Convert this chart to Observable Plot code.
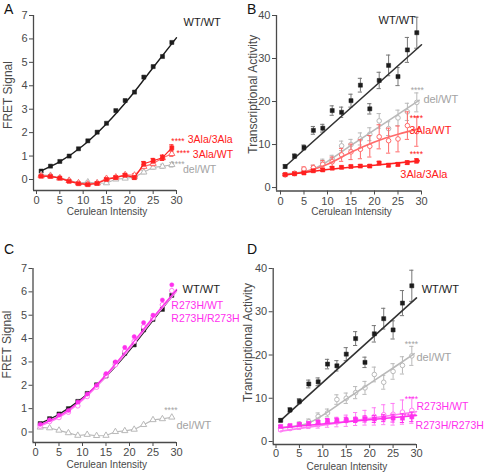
<!DOCTYPE html>
<html>
<head>
<meta charset="utf-8">
<script src="https://cdn.jsdelivr.net/npm/d3@7"></script>
<script src="https://cdn.jsdelivr.net/npm/@observablehq/plot@0.6"></script>
<style>
  body { margin: 0; background: #fff; }
  #fig { position: relative; width: 486px; height: 472px; font-family: "Liberation Sans", Arial, sans-serif; }
  .panel { position: absolute; width: 243px; height: 236px; }
  .letter { position: absolute; font-size: 14px; color: #111; line-height: 1; }
</style>
</head>
<body>
<div id="fig"></div>
<script>
// Cerulean intensity bins (shared by every series)
const intensity = [1, 3, 5, 7, 9, 11, 13, 15, 17, 19, 21, 23, 25, 27, 29];

// FRET signal (panels A and C)
const fretWT = [0.36, 0.57, 0.77, 1.00, 1.31, 1.65, 2.02, 2.40, 2.94, 3.37, 3.73, 4.37, 4.82, 5.25, 5.85];
const fretDel = [0.20, 0.17, 0.07, -0.04, -0.15, -0.11, -0.16, -0.15, 0.01, 0.05, 0.11, 0.31, 0.52, 0.56, 0.63];
const fretDelErr = [0.03, 0.03, 0.03, 0.03, 0.04, 0.04, 0.04, 0.05, 0.05, 0.05, 0.06, 0.07, 0.08, 0.09, 0.10];
const fret3Ala3Ala = [0.14, 0.13, 0.06, -0.08, -0.18, -0.22, -0.17, 0.00, 0.08, 0.18, 0.08, 0.67, 0.80, 0.93, 1.35];
const fret3Ala3AlaErr = [0.03, 0.03, 0.03, 0.04, 0.04, 0.04, 0.05, 0.05, 0.06, 0.06, 0.07, 0.10, 0.10, 0.11, 0.13];
const fret3AlaWT = [0.15, 0.14, 0.05, -0.05, -0.15, -0.20, -0.15, 0.04, 0.10, 0.20, 0.18, 0.55, 0.68, 0.92, 1.10];
const fret3AlaWTErr = [0.03, 0.03, 0.03, 0.04, 0.04, 0.04, 0.05, 0.05, 0.06, 0.06, 0.07, 0.09, 0.10, 0.11, 0.12];
const fretR273HWT = [0.25, 0.45, 0.62, 0.85, 1.12, 1.52, 1.92, 2.42, 2.88, 3.45, 3.88, 4.50, 4.88, 5.45, 6.05];
const fretR273HR273H = [0.33, 0.52, 0.72, 0.92, 1.28, 1.62, 2.00, 2.50, 3.00, 3.62, 4.08, 4.68, 5.00, 5.65, 6.30];

// Fitted FRET curves
const fitFretX = [1, 5, 10, 15, 20, 25, 30];
const fitFretWT = [0.37, 0.76, 1.45, 2.38, 3.50, 4.78, 6.05];
const fitFretR273HWT = [0.25, 0.62, 1.36, 2.38, 3.55, 4.82, 6.02];
const fitFretR273HR273H = [0.31, 0.68, 1.42, 2.45, 3.64, 4.90, 6.10];

// Transcriptional activity (panels B and D)
const taWT = [4.9, 7.3, 9.3, 13.3, 13.8, 17.9, 17.5, 20.2, 23.8, 18.3, 24.9, 28.4, 25.8, 32.0, 36.0];
const taWTErr = [0.4, 0.5, 0.6, 0.9, 0.9, 1.1, 1.2, 1.5, 1.6, 1.2, 1.9, 2.4, 2.1, 2.9, 3.6];
const taDel = [3.0, 3.3, 4.0, 4.6, 5.8, 6.6, 9.7, 10.0, 11.3, 12.4, 15.5, 13.7, 16.2, 17.6, 19.8];
const taDelErr = [0.3, 0.4, 0.5, 0.6, 0.8, 0.9, 1.1, 1.2, 1.4, 1.5, 1.7, 1.6, 1.8, 2.0, 2.2];
const ta3AlaWT = [3.0, 3.3, 4.3, 4.6, 5.4, 6.0, 7.6, 8.3, 8.9, 9.6, 11.8, 10.9, 11.3, 14.4, 13.0];
const ta3AlaWTErr = [0.3, 0.4, 0.5, 0.6, 0.9, 1.1, 1.5, 1.8, 2.2, 2.5, 2.8, 2.9, 3.0, 3.2, 3.4];
const ta3Ala3Ala = [3.0, 3.2, 3.4, 3.9, 4.1, 4.5, 4.7, 4.9, 5.0, 5.0, 5.7, 5.2, 5.4, 5.8, 6.2];
const ta3Ala3AlaErr = [0.2, 0.2, 0.2, 0.3, 0.3, 0.3, 0.3, 0.3, 0.3, 0.3, 0.4, 0.4, 0.4, 0.4, 0.5];
const taR273HWT = [2.7, 3.0, 3.3, 3.6, 3.9, 4.3, 4.5, 4.8, 5.2, 5.5, 5.8, 6.2, 6.3, 6.8, 7.2];
const taR273HWTErr = [0.3, 0.4, 0.5, 0.6, 0.8, 1.0, 1.1, 1.3, 1.5, 1.7, 2.0, 2.3, 2.5, 2.8, 3.0];
const taR273HR273H = [3.5, 3.7, 4.0, 4.2, 4.5, 4.8, 4.9, 5.0, 5.0, 5.2, 5.2, 5.4, 5.4, 5.4, 5.7];
const taR273HR273HErr = [0.2, 0.2, 0.3, 0.3, 0.4, 0.5, 0.5, 0.6, 0.6, 0.7, 0.8, 0.8, 0.9, 1.0, 1.1];

// Fitted transcription curves
const fitTaWTX = [1, 30], fitTaWT = [4.9, 33.2];
const fitTaDelX = [1, 4, 7, 10, 15, 20, 25, 29.5], fitTaDel = [3.2, 3.5, 4.3, 6.1, 9.8, 13.4, 17.0, 20.3];
const fitTa3AlaWTX = [1, 5, 10, 15, 20, 25, 29.5], fitTa3AlaWT = [3.0, 3.6, 5.4, 8.2, 10.6, 12.4, 13.7];
const fitTa3Ala3AlaX = [1, 10, 20, 29.5], fitTa3Ala3Ala = [2.9, 4.2, 5.2, 6.2];
const fitTaR273HWTX = [1, 30], fitTaR273HWT = [2.4, 6.9];
const fitTaR273HR273HX = [1, 30], fitTaR273HR273H = [3.2, 6.0];

// Tick values
const xTicks = [0, 5, 10, 15, 20, 25, 30];
const fretTicks = [0, 1, 2, 3, 4, 5, 6, 7];
const taTicks = [0, 10, 20, 30, 40];

// Colours
const BLACK = "#1c1c1c", GREY = "#b9b9b9", GREY_TXT = "#a3a3a3";
const RED = "#ff2020", RED_LIGHT = "#ff6a6a";
const MAG = "#ff30ee", MAG_LIGHT = "#ff7df4";
const AXIS = "#4a4a4a";
const FONT = "'Liberation Sans', Arial, sans-serif";

const rows = (xs, ys, es) => xs.map((x, i) => ({x, y: ys[i], e: es ? es[i] : 0}));

function errorBars(data, color) {
  const o = {stroke: color, strokeWidth: 1};
  return [
    Plot.ruleX(data, {x: "x", y1: d => d.y - d.e, y2: d => d.y + d.e, ...o}),
    Plot.ruleY(data, {y: d => d.y + d.e, x1: d => d.x - 0.45, x2: d => d.x + 0.45, ...o}),
    Plot.ruleY(data, {y: d => d.y - d.e, x1: d => d.x - 0.45, x2: d => d.x + 0.45, ...o})
  ];
}
const filled = (data, color, symbol = "square", r = 2.3) =>
  Plot.dot(data, {x: "x", y: "y", symbol, r, fill: color, stroke: color, strokeWidth: 0.5});
const hollow = (data, color, symbol = "circle") =>
  Plot.dot(data, {x: "x", y: "y", symbol, r: 2.3, fill: "white", stroke: color, strokeWidth: 1});
const joined = (data, color, w = 1.2) =>
  Plot.line(data, {x: "x", y: "y", stroke: color, strokeWidth: w});
const fit = (data, color, w = 1.6) =>
  Plot.line(data, {x: "x", y: "y", stroke: color, strokeWidth: w, curve: "monotone-x"});
const label = (x, y, text, color, size = 11) =>
  Plot.text([text], {x: () => x, y: () => y, text: d => d, fill: color, fontSize: size,
    textAnchor: "start", lineAnchor: "middle", fontFamily: FONT});
const stars = (x, y, color) =>
  Plot.text(["****"], {x: () => x, y: () => y, text: d => d, fill: color, fontSize: 8.5,
    textAnchor: "start", lineAnchor: "middle", dy: 2, fontFamily: FONT});

function panel({xmin, ymin, ymax, yTicks, yTitle, m, yTitleShift, xTitleShift, tickPad = 2, marks}) {
  return Plot.plot({
    width: 243, height: 236,
    marginLeft: m[0], marginRight: m[1], marginTop: m[2], marginBottom: m[3],
    x: {domain: [xmin, 30]},
    y: {domain: [ymin, ymax]},
    style: {fontFamily: FONT, fontSize: "11px", color: AXIS, background: "transparent", overflow: "visible"},
    marks: [
      Plot.ruleX([xmin], {stroke: AXIS, strokeWidth: 1.3}),
      Plot.ruleY([ymin], {stroke: AXIS, strokeWidth: 1.3}),
      Plot.axisX({ticks: xTicks, tickSize: 4, tickPadding: tickPad, label: null, fontSize: 11}),
      Plot.axisY({ticks: yTicks, tickSize: 4, tickPadding: 2, label: null, fontSize: 11}),
      ...marks,
      Plot.text(["Cerulean Intensity"], {frameAnchor: "bottom", text: d => d, fill: AXIS, fontSize: 10,
        textAnchor: "middle", lineAnchor: "middle", dx: xTitleShift[0], dy: xTitleShift[1], fontFamily: FONT}),
      Plot.text([yTitle], {frameAnchor: "left", text: d => d, fill: AXIS, fontSize: 12, rotate: -90,
        textAnchor: "middle", lineAnchor: "middle", dx: yTitleShift[0], dy: yTitleShift[1], fontFamily: FONT})
    ]
  });
}

const fWT = rows(intensity, fretWT);
const fDel = rows(intensity, fretDel, fretDelErr);
const f33 = rows(intensity, fret3Ala3Ala, fret3Ala3AlaErr);
const f3W = rows(intensity, fret3AlaWT, fret3AlaWTErr);
const fRW = rows(intensity, fretR273HWT);
const fRR = rows(intensity, fretR273HR273H);

const tWT = rows(intensity, taWT, taWTErr);
const tDel = rows(intensity, taDel, taDelErr);
const t3W = rows(intensity, ta3AlaWT, ta3AlaWTErr);
const t33 = rows(intensity, ta3Ala3Ala, ta3Ala3AlaErr);
const tRW = rows(intensity, taR273HWT, taR273HWTErr);
const tRR = rows(intensity, taR273HR273H, taR273HR273HErr);

const panelA = panel({
  xmin: -0.64, ymin: -0.47, ymax: 7, yTicks: fretTicks, yTitle: "FRET Signal",
  m: [33, 67, 15, 46], yTitleShift: [-25, -8], xTitleShift: [2, 21],
  marks: [
    fit(rows(fitFretX, fitFretWT), BLACK, 1.4),
    filled(fWT, BLACK),
    ...errorBars(fDel, GREY), joined(fDel, GREY), hollow(fDel, GREY, "triangle"),
    ...errorBars(f3W, RED_LIGHT), joined(f3W, RED_LIGHT), hollow(f3W, RED_LIGHT, "triangle"),
    ...errorBars(f33, RED), joined(f33, RED), filled(f33, RED),
    label(31.5, 6.7, "WT/WT", BLACK),
    stars(28.9, 1.72, RED), label(32.4, 1.71, "3Ala/3Ala", RED, 10.5),
    stars(30.0, 1.22, RED), label(33.5, 1.07, "3Ala/WT", RED, 10.5),
    stars(28.9, 0.72, GREY_TXT), label(31.4, 0.44, "del/WT", GREY_TXT, 10.5)
  ]
});

const panelB = panel({
  xmin: -0.85, ymin: -0.8, ymax: 40, yTicks: taTicks, yTitle: "Transcriptional Activity",
  m: [33, 65, 15, 45.5], yTitleShift: [-23, -9], xTitleShift: [2.5, 20.5],
  marks: [
    ...errorBars(tWT, "#777"),
    fit(rows(fitTaWTX, fitTaWT), "#333"),
    filled(tWT, BLACK),
    ...errorBars(tDel, GREY), hollow(tDel, GREY),
    fit(rows(fitTaDelX, fitTaDel), GREY),
    ...errorBars(t3W, RED_LIGHT), hollow(t3W, RED_LIGHT),
    fit(rows(fitTa3AlaWTX, fitTa3AlaWT), RED_LIGHT),
    ...errorBars(t33, RED),
    fit(rows(fitTa3Ala3AlaX, fitTa3Ala3Ala), RED),
    filled(t33, RED),
    label(20.85, 38.8, "WT/WT", BLACK),
    stars(27.7, 23.0, GREY_TXT), label(30.4, 20.5, "del/WT", GREY_TXT),
    stars(27.5, 16.6, RED), label(27.4, 13.2, "3Ala/WT", RED),
    stars(27.5, 8.2, RED), label(25.5, 3.0, "3Ala/3Ala", RED)
  ]
});

const panelC = panel({
  xmin: -0.53, ymin: -0.45, ymax: 7, yTicks: fretTicks, yTitle: "FRET Signal",
  m: [32.5, 67, 32, 30], yTitleShift: [-25.5, -11], xTitleShift: [2, 22],
  marks: [
    joined(fDel, GREY), hollow(fDel, GREY, "triangle"),
    fit(rows(fitFretX, fitFretWT), BLACK, 1.4),
    filled(fWT, BLACK),
    fit(rows(fitFretX, fitFretR273HWT), MAG_LIGHT, 1.4),
    hollow(fRW, MAG_LIGHT),
    fit(rows(fitFretX, fitFretR273HR273H), MAG, 1.4),
    filled(fRR, MAG, "circle", 2.1),
    label(31.3, 6.1, "WT/WT", BLACK),
    label(28.9, 5.42, "R273H/WT", MAG, 10.5),
    label(28.9, 4.86, "R273H/R273H", MAG, 10.5),
    stars(27.4, 1.02, GREY_TXT), label(30.0, 0.28, "del/WT", GREY_TXT)
  ]
});

const panelD = panel({
  xmin: -0.6, ymin: -0.69, ymax: 40, yTicks: taTicks, yTitle: "Transcriptional Activity",
  m: [29.7, 70, 32, 28], yTitleShift: [-25, -14], xTitleShift: [2, 22.5], tickPad: 1,
  marks: [
    ...errorBars(tWT, "#777"),
    fit(rows(fitTaWTX, fitTaWT), "#333"),
    filled(tWT, BLACK),
    ...errorBars(tDel, GREY), hollow(tDel, GREY),
    fit(rows(fitTaDelX, fitTaDel), GREY),
    ...errorBars(tRW, MAG_LIGHT), hollow(tRW, MAG_LIGHT),
    fit(rows(fitTaR273HWTX, fitTaR273HWT), MAG_LIGHT),
    ...errorBars(tRR, MAG),
    fit(rows(fitTaR273HR273HX, fitTaR273HR273H), MAG),
    filled(tRR, MAG),
    label(31.1, 35.1, "WT/WT", BLACK),
    stars(27.5, 23.0, GREY_TXT), label(30.0, 19.4, "del/WT", GREY_TXT),
    stars(27.5, 10.2, MAG), label(30.0, 8.0, "R273H/WT", MAG, 10.5),
    stars(27.2, 6.3, MAG), label(29.8, 3.7, "R273H/R273H", MAG, 10.5)
  ]
});

const fig = document.getElementById("fig");
[[panelA, 0, 0, "A"], [panelB, 243, 0, "B"], [panelC, 0, 236, "C"], [panelD, 243, 236, "D"]]
  .forEach(([svg, left, top, letter]) => {
    const wrap = document.createElement("div");
    wrap.className = "panel";
    wrap.style.left = left + "px";
    wrap.style.top = top + "px";
    wrap.appendChild(svg);
    const tag = document.createElement("div");
    tag.className = "letter";
    tag.textContent = letter;
    tag.style.left = "4px";
    tag.style.top = (top ? 6 : 2) + "px";
    wrap.appendChild(tag);
    fig.appendChild(wrap);
  });
</script>
</body>
</html>
